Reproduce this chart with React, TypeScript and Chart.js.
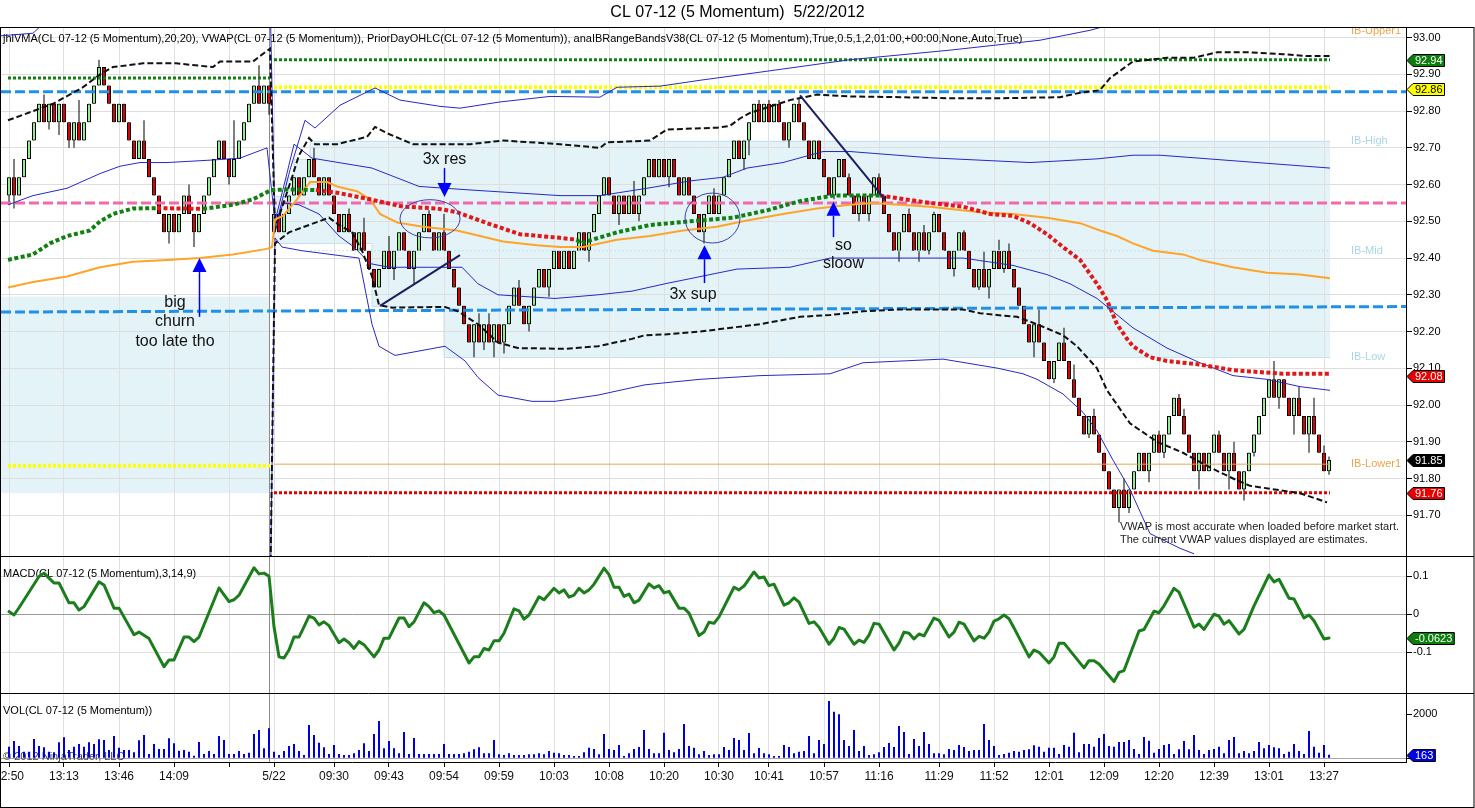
import React, { useEffect, useRef } from 'react';
import { Chart, registerables } from 'chart.js';

Chart.register(...registerables);

const FONT = '"Liberation Sans", Arial, Helvetica, sans-serif';

// ---------------- texts ----------------
const TITLE = 'CL 07-12 (5 Momentum)  5/22/2012';
const PRICE_LEGEND = 'jhlVMA(CL 07-12 (5 Momentum),20,20), VWAP(CL 07-12 (5 Momentum)), PriorDayOHLC(CL 07-12 (5 Momentum)), anaIBRangeBandsV38(CL 07-12 (5 Momentum),True,0.5,1,2,01:00,+00:00,None,Auto,True)';
const MACD_LEGEND = 'MACD(CL 07-12 (5 Momentum),3,14,9)';
const VOL_LEGEND = 'VOL(CL 07-12 (5 Momentum))';
const COPYRIGHT = '\u00A9 2012 NinjaTrader, LLC';
const VWAP_NOTE = ['VWAP is most accurate when loaded before market start.', 'The current VWAP values displayed are estimates.'];

// ---------------- axes ----------------
const X_RANGE = [-1.6, 279.4];
const X_TICKS = [0, 11, 22, 33, 44, 53, 65, 76, 87, 98, 109, 120, 131, 142, 152, 163, 174, 186, 197, 208, 219, 230, 241, 252, 263];
const X_LABELS = ['12:50', '13:13', '13:46', '14:09', '', '5/22', '09:30', '09:43', '09:54', '09:59', '10:03', '10:08', '10:20', '10:30', '10:41', '10:57', '11:16', '11:29', '11:52', '12:01', '12:09', '12:20', '12:39', '13:01', '13:27'];
const PRICE_RANGE = [91.589, 93.029];
const PRICE_TICKS = [93.0, 92.9, 92.8, 92.7, 92.6, 92.5, 92.4, 92.3, 92.2, 92.1, 92.0, 91.9, 91.8, 91.7];
const MACD_RANGE = [-0.207, 0.153];
const MACD_TICKS = [0.1, 0, -0.1];
const VOL_RANGE = [-168, 2968];
const VOL_TICKS = [2000, 0];
const SESSION_BREAK = 52;

// ---------------- candles (5 momentum bars) ----------------
const FIRST_OPEN = 92.57;
const SESSION_START = 53;
const SESSION_OPEN = 92.47;
const CLOSES = [
  92.62, 92.57, 92.62, 92.67, 92.72, 92.77, 92.82, 92.77, 92.82, 92.77,
  92.82, 92.77, 92.72, 92.77, 92.72, 92.77, 92.82, 92.87, 92.92, 92.87,
  92.82, 92.77, 92.82, 92.77, 92.72, 92.67, 92.72, 92.67, 92.62, 92.57,
  92.52, 92.47, 92.52, 92.47, 92.52, 92.57, 92.52, 92.47, 92.52, 92.57,
  92.62, 92.67, 92.72, 92.67, 92.62, 92.67, 92.72, 92.77, 92.82, 92.87,
  92.82, 92.87, 92.82,
  92.52, 92.47, 92.52, 92.57, 92.62, 92.57, 92.62, 92.67, 92.62, 92.57,
  92.62, 92.57, 92.52, 92.47, 92.52, 92.47, 92.42, 92.47, 92.42, 92.37,
  92.32, 92.37, 92.42, 92.37, 92.42, 92.47, 92.42, 92.37, 92.42, 92.47,
  92.52, 92.47, 92.42, 92.47, 92.42, 92.37, 92.32, 92.27, 92.22, 92.17,
  92.22, 92.17, 92.22, 92.17, 92.22, 92.17, 92.22, 92.27, 92.32, 92.27,
  92.22, 92.27, 92.32, 92.37, 92.32, 92.37, 92.42, 92.37, 92.42, 92.37,
  92.42, 92.47, 92.42, 92.47, 92.52, 92.57, 92.62, 92.57, 92.52, 92.57,
  92.52, 92.57, 92.52, 92.57, 92.62, 92.67, 92.62, 92.67, 92.62, 92.67,
  92.62, 92.57, 92.62, 92.57, 92.52, 92.47, 92.52, 92.57, 92.52, 92.57,
  92.62, 92.67, 92.72, 92.67, 92.72, 92.77, 92.82, 92.77, 92.82, 92.77,
  92.82, 92.77, 92.72, 92.77, 92.82, 92.77, 92.72, 92.67, 92.72, 92.67,
  92.62, 92.57, 92.62, 92.67, 92.62, 92.57, 92.52, 92.57, 92.52, 92.57,
  92.62, 92.57, 92.52, 92.47, 92.42, 92.47, 92.52, 92.47, 92.42, 92.47,
  92.42, 92.47, 92.52, 92.47, 92.42, 92.37, 92.42, 92.47, 92.42, 92.37,
  92.32, 92.37, 92.32, 92.37, 92.42, 92.37, 92.42, 92.37, 92.32, 92.27,
  92.22, 92.17, 92.22, 92.17, 92.12, 92.07, 92.12, 92.17, 92.12, 92.07,
  92.02, 91.97, 91.92, 91.97, 91.92, 91.87, 91.82, 91.77, 91.72, 91.77,
  91.72, 91.77, 91.82, 91.87, 91.82, 91.87, 91.92, 91.87, 91.92, 91.97,
  92.02, 91.97, 91.92, 91.87, 91.82, 91.87, 91.82, 91.87, 91.92, 91.87,
  91.82, 91.87, 91.82, 91.77, 91.82, 91.87, 91.92, 91.97, 92.02, 92.07,
  92.02, 92.07, 92.02, 91.97, 92.02, 91.97, 91.92, 91.97, 91.92, 91.87,
  91.82, 91.85,
];
const HIGH_WICKS = [
  [1, 92.67], [7, 92.845], [14, 92.83], [18, 92.94], [27, 92.775], [36, 92.6], [45, 92.775], [50, 92.925],
  [61, 92.7], [68, 92.535], [71, 92.51], [76, 92.46], [84, 92.53], [87, 92.52], [94, 92.25], [96, 92.25], [102, 92.34],
  [125, 92.61], [141, 92.59], [150, 92.83], [152, 92.83], [154, 92.83], [158, 92.835], [168, 92.63], [174, 92.63],
  [180, 92.535], [183, 92.49], [185, 92.526], [191, 92.476], [195, 92.417], [198, 92.45], [200, 92.44], [206, 92.26],
  [211, 92.21], [213, 92.11], [217, 91.99], [223, 91.8], [230, 91.93], [234, 92.03], [235, 91.99], [242, 91.93],
  [245, 91.9], [253, 92.12], [258, 92.05], [261, 92.02], [263, 91.89], [264, 91.86],
];
const LOW_WICKS = [
  [0, 92.545], [1, 92.535], [8, 92.75], [10, 92.735], [12, 92.7], [13, 92.7], [32, 92.44], [37, 92.43], [44, 92.6], [52, 92.79],
  [77, 92.34], [81, 92.33], [93, 92.13], [95, 92.15], [97, 92.13], [99, 92.14], [104, 92.2], [108, 92.295], [116, 92.39],
  [122, 92.49], [126, 92.5], [132, 92.593], [139, 92.44], [147, 92.64], [148, 92.68], [156, 92.7], [162, 92.667],
  [165, 92.56], [170, 92.5], [172, 92.5], [178, 92.39], [182, 92.39], [184, 92.41], [189, 92.35], [194, 92.313],
  [196, 92.29], [199, 92.36], [205, 92.13], [209, 92.06], [216, 91.91], [222, 91.68], [224, 91.706], [228, 91.79],
  [231, 91.856], [238, 91.77], [244, 91.77], [247, 91.74], [249, 91.86], [254, 91.99], [257, 91.92], [260, 91.87], [264, 91.81],
];

// ---------------- volume ----------------
const VOLUMES = [
  530, 788, 560, 303, 303, 879, 560, 500, 303, 273,
  727, 954, 379, 530, 651, 530, 727, 651, 864, 833,
  379, 1015, 485, 379, 379, 273, 818, 1060, 197, 651,
  424, 424, 909, 682, 348, 379, 303, 121, 742, 197,
  333, 197, 1015, 833, 197, 197, 333, 197, 258, 1106,
  1288, 455, 1364, 303, 152, 333, 560, 651, 333, 152,
  1515, 1060, 712, 500, 197, 606, 197, 152, 152, 227,
  379, 682, 333, 1106, 1697, 455, 788, 455, 227, 1197,
  197, 924, 197, 197, 197, 197, 197, 651, 197, 197,
  197, 227, 303, 409, 500, 227, 227, 833, 182, 152,
  227, 152, 152, 152, 182, 182, 227, 182, 333, 258,
  227, 152, 152, 106, 106, 273, 485, 424, 182, 1106,
  424, 379, 606, 106, 227, 424, 515, 1288, 424, 227,
  227, 1167, 379, 273, 424, 1560, 560, 485, 182, 333,
  152, 182, 182, 515, 379, 924, 833, 379, 1151, 227,
  470, 227, 182, 106, 106, 606, 515, 227, 303, 333,
  1015, 227, 833, 651, 2606, 2121, 2000, 833, 560, 1288,
  333, 560, 152, 182, 273, 515, 697, 515, 1470, 1197,
  197, 879, 560, 1197, 651, 227, 227, 182, 424, 379,
  606, 515, 333, 379, 379, 1560, 833, 560, 152, 197,
  258, 333, 303, 379, 409, 591, 530, 303, 485, 485,
  197, 606, 530, 1167, 273, 651, 651, 530, 924, 1106,
  560, 530, 742, 742, 833, 424, 197, 970, 803, 258,
  424, 606, 651, 197, 409, 788, 409, 1060, 379, 197,
  379, 424, 530, 227, 833, 970, 227, 333, 227, 333,
  742, 455, 606, 500, 455, 197, 303, 651, 333, 197,
  1242, 530, 258, 606, 163,
];

// ---------------- MACD (bar index, value) ----------------
const MACD = [
  [0, 0.007], [1, -0.002], [2, 0.017], [6, 0.099], [7, 0.108], [8, 0.095], [9, 0.082], [10, 0.082], [12, 0.03], [13, 0.03],
  [14, 0.011], [15, 0.02], [18, 0.085], [19, 0.077], [21, 0.016], [22, 0.016], [25, -0.054], [26, -0.047], [28, -0.064],
  [31, -0.138], [32, -0.12], [33, -0.12], [35, -0.06], [36, -0.06], [37, -0.072], [38, -0.06], [42, 0.069], [44, 0.033],
  [45, 0.038], [46, 0.05], [49, 0.122], [50, 0.106], [51, 0.108], [52, 0.1], [53, -0.033], [54, -0.112], [55, -0.115],
  [56, -0.094], [57, -0.06], [58, -0.06], [59, -0.033], [60, -0.005], [61, -0.01], [62, -0.028], [63, -0.02], [64, -0.03],
  [66, -0.075], [67, -0.065], [68, -0.075], [69, -0.09], [70, -0.072], [71, -0.08], [73, -0.112], [74, -0.094], [75, -0.063],
  [76, -0.063], [78, -0.01], [79, -0.01], [80, -0.033], [81, -0.02], [83, 0.03], [84, 0.02], [85, 0.004], [86, 0.009],
  [87, -0.002], [92, -0.128], [93, -0.112], [94, -0.112], [95, -0.09], [96, -0.094], [97, -0.07], [98, -0.07], [99, -0.05],
  [101, 0.014], [102, 0.009], [103, -0.013], [104, -0.002], [106, 0.046], [107, 0.038], [109, 0.068], [110, 0.056],
  [111, 0.064], [112, 0.045], [113, 0.05], [114, 0.068], [115, 0.056], [116, 0.064], [117, 0.079], [119, 0.121],
  [120, 0.104], [121, 0.071], [122, 0.071], [123, 0.047], [124, 0.053], [125, 0.03], [126, 0.037], [128, 0.08],
  [129, 0.069], [130, 0.075], [131, 0.056], [132, 0.06], [134, 0.016], [135, 0.016], [136, 0.003], [138, -0.056],
  [139, -0.047], [140, -0.021], [141, -0.024], [142, -0.007], [145, 0.071], [146, 0.064], [147, 0.074], [149, 0.111],
  [150, 0.095], [151, 0.098], [152, 0.075], [153, 0.079], [155, 0.024], [156, 0.03], [157, 0.043], [158, 0.032],
  [160, -0.024], [161, -0.02], [162, -0.034], [164, -0.079], [165, -0.063], [166, -0.035], [167, -0.039], [169, -0.079],
  [170, -0.068], [171, -0.074], [172, -0.055], [173, -0.024], [174, -0.026], [177, -0.094], [178, -0.076], [179, -0.047],
  [180, -0.05], [181, -0.065], [182, -0.052], [183, -0.057], [185, -0.01], [186, -0.016], [188, -0.06], [189, -0.047],
  [190, -0.021], [191, -0.026], [193, -0.07], [194, -0.058], [195, -0.063], [196, -0.047], [197, -0.018], [198, -0.012],
  [199, -0.002], [200, -0.012], [201, -0.036], [204, -0.112], [205, -0.094], [206, -0.1], [208, -0.128], [209, -0.112],
  [210, -0.076], [211, -0.076], [215, -0.141], [216, -0.122], [217, -0.122], [218, -0.131], [221, -0.177], [222, -0.153],
  [223, -0.148], [226, -0.044], [227, -0.04], [229, 0.008], [230, 0.004], [231, 0.022], [233, 0.068], [234, 0.058],
  [237, -0.034], [238, -0.026], [239, -0.04], [241, 0.0], [242, -0.005], [243, -0.026], [244, -0.017], [246, -0.052],
  [247, -0.04], [249, 0.022], [252, 0.103], [253, 0.085], [254, 0.092], [256, 0.042], [257, 0.04], [259, -0.01],
  [260, -0.002], [261, -0.017], [263, -0.065], [264, -0.0623],
];

// ---------------- indicator lines (bar index, price) ----------------
const BAND_OUTER_UP = [
  [-1.6, 93.005], [4.8, 93.012], [7, 93.04], [52.2, 93.12],
  [53.2, 92.48], [56.2, 92.64], [59.2, 92.775], [61.2, 92.754], [66.2, 92.816], [73.2, 92.863], [78.2, 92.83],
  [86.2, 92.813], [90.2, 92.808], [98.2, 92.825], [108.2, 92.84], [118.2, 92.838], [121.6, 92.865], [130.2, 92.868],
  [138.2, 92.884], [150.2, 92.906], [168.2, 92.94], [188.2, 92.966], [206.2, 92.993], [216.2, 93.02], [224.2, 93.05],
];
const BAND_INNER_UP = [
  [-0.2, 92.545], [4.8, 92.57], [11.6, 92.59], [18.2, 92.63], [22.2, 92.65], [26.2, 92.66], [31.6, 92.66], [40.8, 92.667],
  [46.2, 92.672], [51.6, 92.7], [53.2, 92.5], [55.4, 92.62], [57, 92.71], [60.6, 92.672], [72.6, 92.645], [82, 92.595],
  [92.6, 92.585], [110.2, 92.57], [118.2, 92.57], [127.6, 92.59], [136.2, 92.61], [142.8, 92.62], [147.6, 92.645],
  [154.8, 92.66], [162.8, 92.69], [168.2, 92.69], [184.2, 92.673], [204.2, 92.66], [217.6, 92.67], [224.8, 92.68],
  [230.2, 92.68], [244.8, 92.665], [264.2, 92.645],
];
const BAND_INNER_DN = [
  [53.2, 92.47], [54.8, 92.55], [58, 92.545], [62, 92.52], [66, 92.46], [69, 92.43], [72.2, 92.385], [76, 92.375],
  [90.6, 92.375], [93.8, 92.33], [97.8, 92.3], [109.2, 92.29], [117.8, 92.3], [124.6, 92.31], [131.2, 92.33],
  [145.6, 92.37], [156.2, 92.375], [164.2, 92.4], [180.8, 92.4], [190.8, 92.4], [200.8, 92.38], [207.6, 92.355],
  [212.2, 92.33], [217.6, 92.29], [224.8, 92.21], [231.6, 92.155], [238.2, 92.115], [244.8, 92.08], [251.6, 92.07],
  [258.2, 92.05], [264.2, 92.04],
];
const BAND_OUTER_DN = [
  [-1.6, 91.4], [52.2, 91.4], [53.2, 92.455], [54.6, 92.43], [58.6, 92.42], [70, 92.4], [72.6, 92.22], [74, 92.16],
  [77.2, 92.135], [87.2, 92.16], [91.2, 92.12], [93.8, 92.075], [97.8, 92.027], [104.6, 92.01], [109.2, 92.01],
  [117.8, 92.027], [127.2, 92.055], [138.2, 92.07], [150.2, 92.08], [164.2, 92.085], [170.8, 92.115], [186.8, 92.125],
  [197.8, 92.1], [202.8, 92.085], [205.6, 92.07], [210.8, 92.03], [214.8, 91.98], [217.6, 91.93], [220.8, 91.85],
  [224.2, 91.77], [228.2, 91.65], [234.2, 91.61], [237, 91.595],
];
const DASH_UP = [
  [-0.2, 92.775], [4.8, 92.8], [8.8, 92.82], [14.8, 92.865], [18.2, 92.9], [20.8, 92.92], [26.8, 92.93], [33.4, 92.93],
  [40.8, 92.92], [42.2, 92.935], [48.8, 92.935], [50.2, 92.95], [52.2, 92.97],
  [53.2, 92.48], [56.6, 92.62], [58, 92.68], [60, 92.727], [61.2, 92.71], [65.6, 92.71], [71.6, 92.73], [73.2, 92.757],
  [75.6, 92.74], [80.8, 92.71], [92.2, 92.71], [98.8, 92.72], [110.2, 92.71], [118.2, 92.7], [119.6, 92.715],
  [128.2, 92.72], [131.6, 92.75], [141.6, 92.755], [144.2, 92.76], [146.2, 92.78], [148.2, 92.795], [151.6, 92.81],
  [156.2, 92.83], [161.6, 92.845], [168.2, 92.84], [178.2, 92.838], [188.2, 92.835], [198.2, 92.835], [210.2, 92.838],
  [214.2, 92.85], [218.2, 92.857], [220.2, 92.89], [224.8, 92.935], [231.6, 92.945], [236.8, 92.945], [241.6, 92.96],
  [248.2, 92.96], [254.8, 92.955], [259.6, 92.95], [264.2, 92.95],
];
const DASH_DN = [
  [-1.6, 91.45], [52.2, 91.45], [53.2, 92.44], [56, 92.47], [62, 92.5], [64, 92.51], [66, 92.49], [68.6, 92.47],
  [70.6, 92.42], [72.6, 92.35], [74, 92.272], [76.6, 92.265], [87.2, 92.267], [89.8, 92.255], [93.8, 92.22],
  [97.8, 92.17], [101.8, 92.155], [111.2, 92.153], [117.8, 92.16], [124.6, 92.18], [127.2, 92.19], [131.2, 92.192],
  [138.2, 92.2], [150.2, 92.22], [158.2, 92.24], [164.2, 92.245], [170.8, 92.255], [177.6, 92.26], [190.8, 92.26],
  [194.2, 92.25], [197.6, 92.245], [201.6, 92.24], [205.6, 92.22], [210.8, 92.19], [213.6, 92.16], [217.6, 92.1],
  [219.6, 92.04], [224.2, 91.95], [229.6, 91.9], [234.8, 91.87], [240.2, 91.83], [244.8, 91.8], [248.2, 91.78],
  [258.2, 91.76], [263.6, 91.735],
];
// jhlVMA: [index, value, trend] — trend g = rising, r = falling
const VMA = [
  [-0.2, 92.395, 'g'], [4.8, 92.41, 'g'], [8.2, 92.44, 'g'], [11.6, 92.46, 'g'], [16.2, 92.475, 'g'], [18.2, 92.5, 'g'],
  [20.8, 92.52, 'g'], [24.8, 92.535, 'g'], [29.6, 92.536, 'g'], [38.8, 92.534, 'r'], [44.8, 92.545, 'g'], [48.8, 92.56, 'g'],
  [52.4, 92.585, 'g'], [56.2, 92.587, 'g'], [61.4, 92.585, 'g'], [65.6, 92.578, 'r'], [72.2, 92.56, 'r'], [78.8, 92.54, 'r'],
  [85.6, 92.535, 'r'], [89.6, 92.525, 'r'], [95.6, 92.495, 'r'], [102.2, 92.465, 'r'], [110.2, 92.455, 'r'],
  [113.6, 92.45, 'r'], [114.2, 92.44, 'g'], [121.6, 92.47, 'g'], [128.2, 92.49, 'g'], [136.2, 92.5, 'g'],
  [144.8, 92.51, 'g'], [151.6, 92.53, 'g'], [158.2, 92.555, 'g'], [164.8, 92.57, 'g'], [174.2, 92.57, 'g'],
  [184.2, 92.55, 'r'], [190.8, 92.54, 'r'], [196.2, 92.52, 'r'], [200.8, 92.515, 'r'], [204.2, 92.495, 'r'],
  [207.6, 92.465, 'r'], [210.8, 92.43, 'r'], [214.2, 92.395, 'r'], [217.6, 92.33, 'r'], [219.6, 92.285, 'r'],
  [221.6, 92.22, 'r'], [223.6, 92.18, 'r'], [224.8, 92.16, 'r'], [228.2, 92.13, 'r'], [231.6, 92.12, 'r'],
  [238.2, 92.11, 'r'], [244.8, 92.095, 'r'], [254.8, 92.085, 'r'], [264.2, 92.085, 'r'],
];
const VWAP = [
  [-0.2, 92.32], [4.8, 92.335], [11.6, 92.35], [18.2, 92.375], [24.8, 92.39], [31.6, 92.395], [38.2, 92.4], [44.8, 92.41],
  [51.6, 92.425], [52.6, 92.43], [53.2, 92.505], [54.8, 92.515], [57.6, 92.56], [60.2, 92.607], [63.6, 92.607],
  [65.6, 92.595], [69.6, 92.582], [72.2, 92.56], [74.2, 92.52], [77.6, 92.497], [82.8, 92.485], [89.6, 92.475],
  [94.2, 92.46], [98.8, 92.445], [105.6, 92.435], [110.2, 92.43], [114.8, 92.43], [121.6, 92.45], [128.2, 92.46],
  [134.8, 92.475], [141.6, 92.485], [146.8, 92.5], [154.8, 92.52], [161.6, 92.535], [168.2, 92.545], [172.8, 92.55],
  [184.2, 92.54], [194.2, 92.525], [200.8, 92.52], [207.6, 92.51], [214.2, 92.495], [218.2, 92.475], [221.6, 92.46],
  [224.8, 92.44], [228.8, 92.42], [234.8, 92.41], [238.2, 92.395], [244.8, 92.375], [251.6, 92.36], [258.2, 92.355],
  [264.2, 92.345],
];

// ---------------- horizontal levels [from index, to index, price] ----------------
const PRIOR_HIGH = [[-0.2, 52.2, 92.89], [53, 264.2, 92.94]];
const PRIOR_OPEN = [[-0.2, 52.2, 91.835], [53, 264.2, 92.865]];
const PRIOR_CLOSE = [[-1.6, 279.4, 92.853]];
const PIVOT = [[-1.6, 279.4, 92.55]];
const PRIOR_LOW_SLOPE = [[-1.6, 92.253], [279.4, 92.268]];
const PRIOR_LOW = [[53, 264.2, 91.761]];
const IB_LOWER1 = [[53, 264.2, 91.839]];
const IB_MID = [[60.2, 264.2, 92.42]];
// Initial-balance box: stepped top / bottom, and the prior session box [from, to, low, high]
const IB_TOP = [[53, 92.57], [55.4, 92.62], [57, 92.67], [60.2, 92.72]];
const IB_BOTTOM = [[53, 92.44], [72.6, 92.27], [87, 92.13]];
const IB_END = 264.2;
const PRE_IB_BOX = [-1.6, 52.2, 91.76, 92.295];
const IB_LABELS = [['IB-Upper1', 93.018], ['IB-High', 92.72], ['IB-Mid', 92.42], ['IB-Low', 92.13], ['IB-Lower1', 91.839]];
const IB_LABEL_AT = 268.4;

// ---------------- hand annotations (bar index, price) ----------------
const NOTES = [
  [33.2, 92.278, 'big'], [33.2, 92.226, 'churn'], [33.2, 92.174, 'too late tho'],
  [87.1, 92.667, '3x res'], [136.8, 92.3, '3x sup'], [166.9, 92.435, 'so'], [166.9, 92.384, 'sloow'],
];
const ARROWS = [[38, 92.24, 92.4], [87, 92.645, 92.566], [139.1, 92.332, 92.435], [164.8, 92.457, 92.553]];
const ELLIPSES = [[84.2, 92.507, 6, 0.052], [140.7, 92.509, 5.5, 0.068]];
const TREND_LINES = [[74.2, 92.27, 90.2, 92.408], [158.2, 92.843, 175.2, 92.56]];
const VWAP_NOTE_AT = [222.2, 91.668, 91.633];

// ---------------- last-value markers ----------------
const PRICE_TAGS = [92.94, 92.86, 92.08, 91.85, 91.76];
const PRICE_TAG_KINDS = ['green', 'yellow', 'red', 'black', 'red'];
const MACD_TAG = -0.0623;
const VOL_TAG = 163;

// ---------------- styles ----------------
const TAG_STYLE: Record<string, [string, string]> = {
  green: ['#0a7d0a', '#ffffff'],
  yellow: ['#ffff00', '#000000'],
  red: ['#e60000', '#ffffff'],
  black: ['#000000', '#ffffff'],
  blue: ['#0000e6', '#ffffff'],
};
const IB_LABEL_COLOR: Record<string, string> = {
  'IB-Upper1': '#e8a64a', 'IB-High': '#a9d6e6', 'IB-Mid': '#a9d6e6', 'IB-Low': '#a9d6e6', 'IB-Lower1': '#e8a64a',
};

function buildConfig() {
  const opens = CLOSES.map((c, i) => (i === 0 ? FIRST_OPEN : i === SESSION_START ? SESSION_OPEN : CLOSES[i - 1]));
  const hi = new Map(HIGH_WICKS.map(([i, v]) => [i, v]));
  const lo = new Map(LOW_WICKS.map(([i, v]) => [i, v]));
  const bodies = CLOSES.map((c, i) => ({ x: i, y: [opens[i], c] }));
  const wicks = CLOSES.map((c, i) => ({
    x: i,
    y: [Math.min(opens[i], c, lo.has(i) ? lo.get(i) : Infinity), Math.max(opens[i], c, hi.has(i) ? hi.get(i) : -Infinity)],
  }));
  const bodyColors = CLOSES.map((c, i) => (c >= opens[i] ? '#90ee90' : '#e00000'));

  const pts = (arr: number[][]) => arr.map((p) => ({ x: p[0], y: p[1] }));
  const lineDs = (data: any[], color: string, width: number, dash: number[], order: number, axis = 'yp', extra: any = {}) => ({
    type: 'line', data, yAxisID: axis, borderColor: color, borderWidth: width, borderDash: dash,
    pointRadius: 0, fill: false, tension: 0, order, borderCapStyle: 'butt', borderJoinStyle: 'miter', ...extra,
  });
  const levels = (arr: number[][], color: string, width: number, dash: number[], order: number) =>
    arr.map(([a, b, v]) => lineDs([{ x: a, y: v }, { x: b, y: v }], color, width, dash, order));

  const datasets: any[] = [
    { type: 'bar', data: wicks, yAxisID: 'yp', backgroundColor: '#000', borderWidth: 0, barThickness: 1, grouped: false, inflateAmount: 0, order: 41 },
    { type: 'bar', data: bodies, yAxisID: 'yp', backgroundColor: bodyColors, borderColor: '#000', borderWidth: 1, borderSkipped: false, barThickness: 4, grouped: false, inflateAmount: 0, order: 40 },
    { type: 'bar', data: VOLUMES.map((v, i) => ({ x: i, y: v })), yAxisID: 'yv', backgroundColor: '#0000dd', borderWidth: 0, barThickness: 2, grouped: false, inflateAmount: 0, order: 40 },
    lineDs(pts(MACD), '#1b7d1b', 3, [], 1, 'ym', { borderJoinStyle: 'round', borderCapStyle: 'round' }),
    ...levels(IB_MID, '#bfe2ee', 1, [2, 2], 30),
    ...levels(IB_LOWER1, '#e4a850', 1, [], 30),
    ...levels(PIVOT, '#f06aac', 3, [10, 4], 20),
    ...levels(PRIOR_CLOSE, '#2090e8', 3, [10, 4], 20),
    lineDs(pts(PRIOR_LOW_SLOPE), '#2090e8', 3, [10, 4], 20),
    ...levels(PRIOR_OPEN, '#ffff00', 4, [3, 2], 19),
    ...levels(PRIOR_HIGH, '#108010', 3, [3, 2], 19),
    ...levels(PRIOR_LOW, '#e00000', 3, [3, 2], 19),
    lineDs(pts(BAND_OUTER_UP), '#2828c8', 1, [], 12),
    lineDs(pts(BAND_INNER_UP), '#2828c8', 1, [], 12),
    lineDs(pts(BAND_INNER_DN), '#2828c8', 1, [], 12),
    lineDs(pts(BAND_OUTER_DN), '#2828c8', 1, [], 12),
    lineDs(pts(DASH_UP), '#111111', 2, [6, 3], 11),
    lineDs(pts(DASH_DN), '#111111', 2, [6, 3], 11),
    lineDs(pts(VWAP), '#ffa428', 2, [], 8, 'yp', { borderJoinStyle: 'round' }),
    lineDs(VMA.map((p) => ({ x: p[0], y: p[1] })), '#108010', 4, [4, 2.5], 6, 'yp', {
      segment: { borderColor: (ctx: any) => (VMA[ctx.p1DataIndex][2] === 'r' ? '#e01818' : '#108010') },
    }),
  ];

  const tickFont = { family: FONT, size: 11 };
  const yCommon = (ticks: number[], fmt: (v: number) => string, gridColor: any) => ({
    type: 'linear', position: 'right', stack: 'panes', offset: false,
    border: { display: true, color: '#000' },
    grid: { color: gridColor, tickColor: '#000', tickLength: 6, drawTicks: true, lineWidth: 1 },
    ticks: { font: tickFont, color: '#000', padding: 1, autoSkip: false, callback: (v: number) => fmt(v) },
    afterBuildTicks: (s: any) => { s.ticks = ticks.map((v) => ({ value: v })); },
    afterFit: (s: any) => { s.width = 68; s.paddingTop = 0; s.paddingBottom = 0; },
  });

  const scales: any = {
    x: {
      type: 'linear', min: X_RANGE[0], max: X_RANGE[1], offset: false,
      border: { display: true, color: '#000' },
      grid: { color: '#e0e0e0', tickColor: '#000', tickLength: 5, offset: false },
      ticks: { font: { family: FONT, size: 12 }, color: '#111', padding: 2, autoSkip: false, maxRotation: 0, minRotation: 0, callback: (_v: number, i: number) => X_LABELS[i] ?? '' },
      afterBuildTicks: (s: any) => { s.ticks = X_TICKS.map((v) => ({ value: v })); },
      afterFit: (s: any) => { s.height = 45; s.paddingLeft = 0; s.paddingRight = 0; },
    },
    yp: { ...yCommon(PRICE_TICKS, (v) => v.toFixed(2), '#dedede'), min: PRICE_RANGE[0], max: PRICE_RANGE[1], stackWeight: 529 },
    ym: { ...yCommon(MACD_TICKS, (v) => (v === 0 ? '0' : v.toFixed(1)), (c: any) => (c.tick && c.tick.value === 0 ? '#9a9a9a' : '#dedede')), min: MACD_RANGE[0], max: MACD_RANGE[1], stackWeight: 137 },
    yv: { ...yCommon(VOL_TICKS, (v) => String(v), (c: any) => (c.tick && c.tick.value === 0 ? '#a8a8a8' : 'rgba(0,0,0,0)')), min: VOL_RANGE[0], max: VOL_RANGE[1], stackWeight: 69 },
  };

  return { datasets, scales };
}

const decorPlugin = {
  id: 'decor',
  beforeDraw(chart: any) {
    const { ctx } = chart;
    const x = chart.scales.x, yp = chart.scales.yp;
    ctx.save();
    ctx.fillStyle = '#ffffff';
    ctx.fillRect(0, 0, chart.width, chart.height);
    // initial balance boxes
    ctx.fillStyle = '#e3f3f8';
    const [pa, pb, pl, ph] = PRE_IB_BOX;
    ctx.fillRect(x.getPixelForValue(pa), yp.getPixelForValue(ph), x.getPixelForValue(pb) - x.getPixelForValue(pa), yp.getPixelForValue(pl) - yp.getPixelForValue(ph));
    const stepAt = (steps: number[][], v: number) => { let r = steps[0][1]; for (const s of steps) if (s[0] <= v) r = s[1]; return r; };
    const xs = Array.from(new Set([...IB_TOP.map((p) => p[0]), ...IB_BOTTOM.map((p) => p[0]), IB_END])).sort((a, b) => a - b);
    for (let k = 0; k < xs.length - 1; k++) {
      const a = xs[k], b = xs[k + 1];
      const t = yp.getPixelForValue(stepAt(IB_TOP, a));
      const bt = yp.getPixelForValue(stepAt(IB_BOTTOM, a));
      ctx.fillRect(x.getPixelForValue(a), t, x.getPixelForValue(b) - x.getPixelForValue(a), bt - t);
    }
    ctx.strokeStyle = '#c2e2ec';
    ctx.lineWidth = 1;
    for (const steps of [IB_TOP, IB_BOTTOM]) {
      ctx.beginPath();
      for (let k = 0; k < steps.length; k++) {
        const xa = x.getPixelForValue(steps[k][0]);
        const xb = x.getPixelForValue(k + 1 < steps.length ? steps[k + 1][0] : IB_END);
        const y = Math.round(yp.getPixelForValue(steps[k][1])) + 0.5;
        if (k === 0) ctx.moveTo(xa, y); else ctx.lineTo(xa, y);
        ctx.lineTo(xb, y);
      }
      ctx.stroke();
    }
    ctx.restore();
  },
  beforeDatasetsDraw(chart: any) {
    const { ctx, chartArea } = chart;
    const x = chart.scales.x, yp = chart.scales.yp, ym = chart.scales.ym, yv = chart.scales.yv;
    ctx.save();
    // session break
    const sx = Math.round(x.getPixelForValue(SESSION_BREAK)) + 0.5;
    ctx.strokeStyle = '#8c8c8c';
    ctx.lineWidth = 1;
    ctx.beginPath(); ctx.moveTo(sx, chartArea.top); ctx.lineTo(sx, chartArea.bottom); ctx.stroke();
    // legends
    ctx.font = `11px ${FONT}`;
    ctx.textBaseline = 'middle';
    ctx.textAlign = 'left';
    ctx.fillStyle = '#000';
    ctx.fillText(PRICE_LEGEND, 3, yp.top + 12);
    ctx.fillText(MACD_LEGEND, 3, ym.top + 18);
    ctx.fillText(VOL_LEGEND, 3, yv.top + 18);
    ctx.fillStyle = '#444';
    ctx.fillText(COPYRIGHT, 3, yv.bottom - 5);
    ctx.restore();
  },
  afterDatasetsDraw(chart: any) {
    const { ctx, chartArea } = chart;
    const x = chart.scales.x, yp = chart.scales.yp;
    const X = (v: number) => x.getPixelForValue(v);
    const Y = (v: number) => yp.getPixelForValue(v);
    ctx.save();
    ctx.beginPath();
    ctx.rect(chartArea.left, yp.top, chartArea.right - chartArea.left, yp.bottom - yp.top);
    ctx.clip();
    // trend lines
    ctx.strokeStyle = '#1d1d63';
    ctx.lineWidth = 2;
    for (const [i0, p0, i1, p1] of TREND_LINES) {
      ctx.beginPath(); ctx.moveTo(X(i0), Y(p0)); ctx.lineTo(X(i1), Y(p1)); ctx.stroke();
    }
    // ellipses
    ctx.strokeStyle = '#4040a8';
    ctx.lineWidth = 1;
    for (const [ci, cp, ri, rp] of ELLIPSES) {
      const cx = X(ci), cy = Y(cp);
      ctx.beginPath();
      ctx.ellipse(cx, cy, X(ci + ri) - cx, cy - Y(cp + rp), 0, 0, Math.PI * 2);
      ctx.stroke();
    }
    // arrows
    ctx.strokeStyle = '#0000ff';
    ctx.fillStyle = '#0000ff';
    for (const [ai, tail, tip] of ARROWS) {
      const ax = Math.round(X(ai)) + 0.5;
      const yt = Y(tail), yh = Y(tip);
      const dir = yh < yt ? 1 : -1;
      const head = 14;
      ctx.lineWidth = 1.5;
      ctx.beginPath(); ctx.moveTo(ax, yt); ctx.lineTo(ax, yh + dir * head); ctx.stroke();
      ctx.beginPath(); ctx.moveTo(ax, yh); ctx.lineTo(ax - 7, yh + dir * head); ctx.lineTo(ax + 7, yh + dir * head); ctx.closePath(); ctx.fill();
    }
    // notes
    ctx.font = `16px ${FONT}`;
    ctx.fillStyle = '#111';
    ctx.textAlign = 'center';
    ctx.textBaseline = 'middle';
    for (const [ni, np, t] of NOTES) ctx.fillText(t as string, X(ni as number), Y(np as number));
    // VWAP note
    ctx.font = `11px ${FONT}`;
    ctx.textAlign = 'left';
    ctx.fillStyle = '#222';
    ctx.fillText(VWAP_NOTE[0], X(VWAP_NOTE_AT[0]), Y(VWAP_NOTE_AT[1]));
    ctx.fillText(VWAP_NOTE[1], X(VWAP_NOTE_AT[0]), Y(VWAP_NOTE_AT[2]));
    // IB labels
    for (const [name, v] of IB_LABELS) {
      ctx.fillStyle = IB_LABEL_COLOR[name as string];
      ctx.fillText(name as string, X(IB_LABEL_AT), Y(v as number));
    }
    ctx.restore();
  },
  afterDraw(chart: any) {
    const { ctx } = chart;
    const yp = chart.scales.yp, ym = chart.scales.ym, yv = chart.scales.yv, x = chart.scales.x;
    const right = chart.width - 1;
    ctx.save();
    ctx.strokeStyle = '#000';
    ctx.lineWidth = 1;
    // pane separators and frame
    for (const yy of [yp.bottom, ym.bottom]) {
      const y = Math.round(yy) + 0.5;
      ctx.beginPath(); ctx.moveTo(0, y); ctx.lineTo(right, y); ctx.stroke();
    }
    ctx.strokeRect(0.5, Math.round(yp.top) + 0.5, right - 0.5, chart.height - 1 - Math.round(yp.top));
    // tags
    const tag = (y: number, text: string, kind: string) => {
      const [bg, fg] = TAG_STYLE[kind];
      ctx.font = `11px ${FONT}`;
      const w = ctx.measureText(text).width + 4;
      const h = 12;
      const x0 = x.right + 1;
      ctx.beginPath();
      ctx.moveTo(x0, y);
      ctx.lineTo(x0 + 6, y - h / 2);
      ctx.lineTo(x0 + 6 + w, y - h / 2);
      ctx.lineTo(x0 + 6 + w, y + h / 2);
      ctx.lineTo(x0 + 6, y + h / 2);
      ctx.closePath();
      ctx.fillStyle = bg;
      ctx.fill();
      ctx.strokeStyle = '#000';
      ctx.stroke();
      ctx.fillStyle = fg;
      ctx.textAlign = 'left';
      ctx.textBaseline = 'middle';
      ctx.fillText(text, x0 + 8, y + 0.5);
    };
    PRICE_TAGS.forEach((v, k) => tag(Math.round(yp.getPixelForValue(v)) + 0.5, v.toFixed(2), PRICE_TAG_KINDS[k]));
    tag(Math.round(ym.getPixelForValue(MACD_TAG)) + 0.5, MACD_TAG.toFixed(4), 'green');
    tag(Math.round(yv.getPixelForValue(VOL_TAG)) + 0.5, String(VOL_TAG), 'blue');
    // title
    ctx.fillStyle = '#000';
    ctx.font = `16px ${FONT}`;
    ctx.textAlign = 'center';
    ctx.textBaseline = 'middle';
    ctx.fillText(TITLE, chart.width / 2, 13);
    ctx.restore();
  },
};

export default function App() {
  const ref = useRef<HTMLCanvasElement | null>(null);
  useEffect(() => {
    if (!ref.current) return;
    const { datasets, scales } = buildConfig();
    const chart = new Chart(ref.current, {
      type: 'line',
      data: { datasets },
      options: {
        responsive: false,
        animation: false,
        events: [],
        layout: { padding: { top: 27, left: 1, right: 1, bottom: 1 } },
        plugins: { legend: { display: false }, tooltip: { enabled: false }, title: { display: false } },
        scales,
      } as any,
      plugins: [decorPlugin],
    } as any);
    return () => chart.destroy();
  }, []);
  return (
    <div style={{ position: 'absolute', left: 0, top: 0, width: 1475, height: 808, background: '#fff' }}>
      <canvas ref={ref} width={1475} height={808} style={{ display: 'block', width: 1475, height: 808 }} />
    </div>
  );
}
